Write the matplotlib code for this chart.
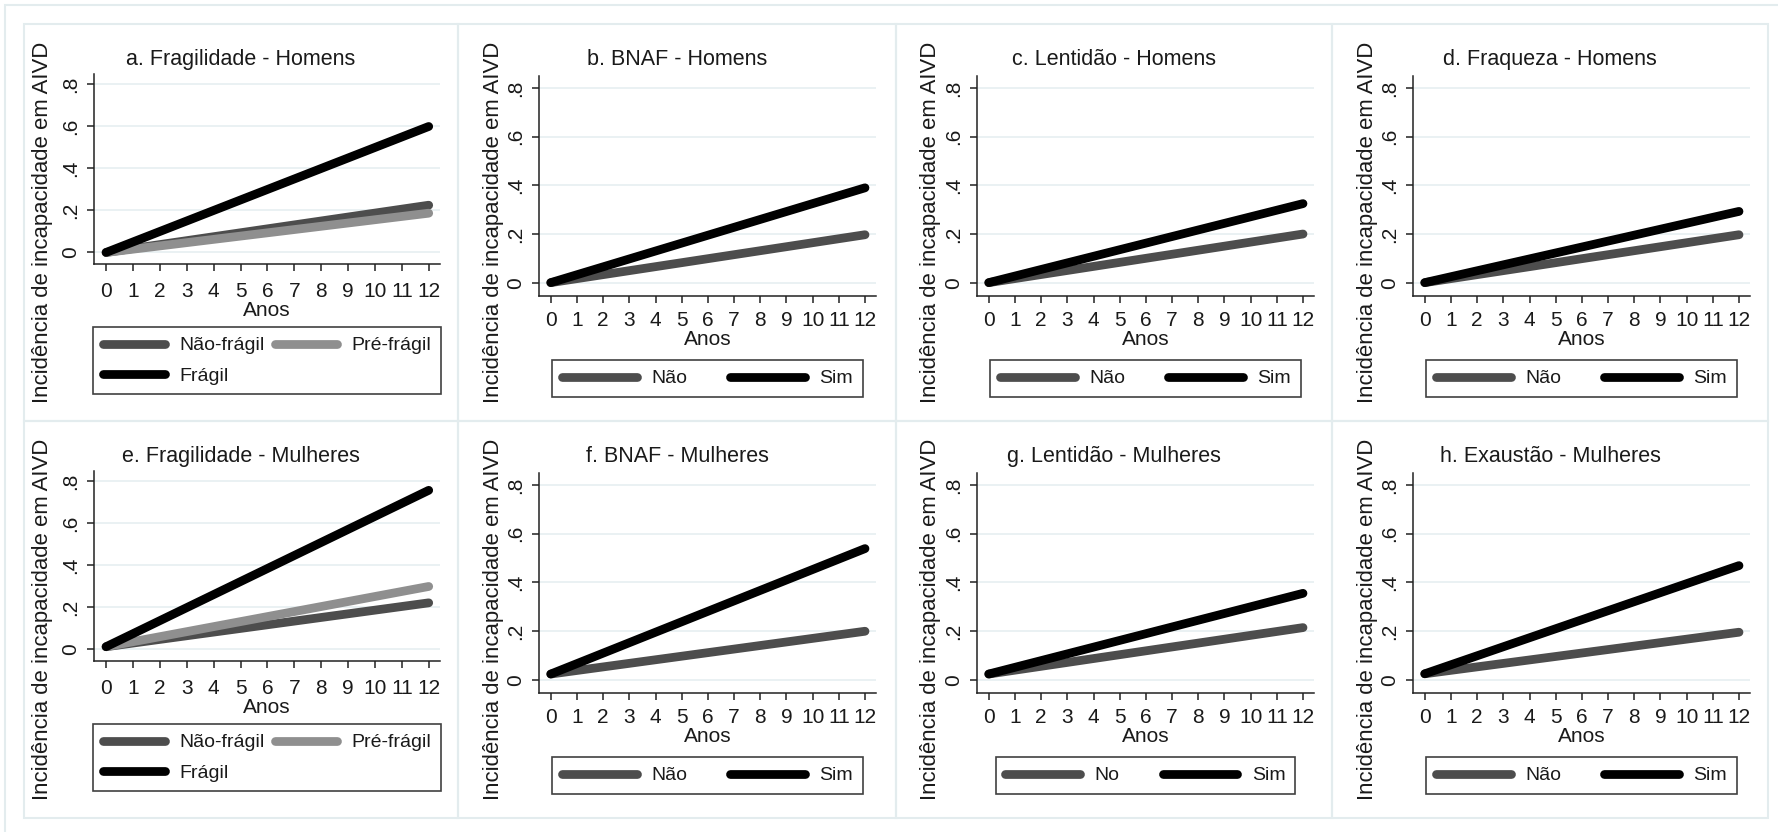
import matplotlib
matplotlib.use("Agg")
import matplotlib.pyplot as plt
from matplotlib.patches import Rectangle

plt.rcParams['font.family'] = ['Liberation Sans', 'DejaVu Sans']

# ---- dados ----
anos = [0, 12]

titulos = ["a. Fragilidade - Homens", "b. BNAF - Homens", "c. Lentidão - Homens",
           "d. Fraqueza - Homens", "e. Fragilidade - Mulheres", "f. BNAF - Mulheres",
           "g. Lentidão - Mulheres", "h. Exaustão - Mulheres"]

hom_frag_nao = [0.0, 0.225]
hom_frag_pre = [0.0, 0.187]
hom_frag_fragil = [0.0, 0.600]
hom_bnaf_nao = [0.0, 0.197]
hom_bnaf_sim = [0.0, 0.390]
hom_lent_nao = [0.0, 0.200]
hom_lent_sim = [0.0, 0.325]
hom_fraq_nao = [0.0, 0.197]
hom_fraq_sim = [0.0, 0.293]

mul_frag_nao = [0.013, 0.222]
mul_frag_pre = [0.013, 0.300]
mul_frag_fragil = [0.013, 0.758]
mul_bnaf_nao = [0.023, 0.199]
mul_bnaf_sim = [0.023, 0.539]
mul_lent_nao = [0.023, 0.214]
mul_lent_sim = [0.023, 0.355]
mul_exau_nao = [0.024, 0.195]
mul_exau_sim = [0.024, 0.469]

rotulos_frag = ["Não-frágil", "Pré-frágil", "Frágil"]
rotulos_sn = ["Não", "Sim"]
rotulos_g = ["No", "Sim"]

yticks = [0, 0.2, 0.4, 0.6, 0.8]
ytick_labels = ["0", ".2", ".4", ".6", ".8"]
xticks = list(range(13))

# ---- estilo ----
cor_nao = "#4d4d4d"
cor_pre = "#8f8f8f"
cor_sim = "#000000"
cor_grade = "#e6eff1"
cor_borda = "#e3ecee"

W, H = 1778, 832
fig = plt.figure(figsize=(W / 100, H / 100), dpi=100)
fig.patch.set_facecolor("white")

def fx(x):
    return x / W

def fy(y):
    return 1 - y / H

# moldura externa
fig.add_artist(Rectangle((fx(5), fy(H + 20)), fx(W + 20), (H + 15) / H, transform=fig.transFigure,
                         fill=False, ec=cor_borda, lw=1.5))

col_x = [24, 458, 896, 1332, 1768]
row_y = [24, 421, 818]

paineis = [
    (0, 0, [hom_frag_nao, hom_frag_pre, hom_frag_fragil], [cor_nao, cor_pre, cor_sim], rotulos_frag),
    (0, 1, [hom_bnaf_nao, hom_bnaf_sim], [cor_nao, cor_sim], rotulos_sn),
    (0, 2, [hom_lent_nao, hom_lent_sim], [cor_nao, cor_sim], rotulos_sn),
    (0, 3, [hom_fraq_nao, hom_fraq_sim], [cor_nao, cor_sim], rotulos_sn),
    (1, 0, [mul_frag_nao, mul_frag_pre, mul_frag_fragil], [cor_nao, cor_pre, cor_sim], rotulos_frag),
    (1, 1, [mul_bnaf_nao, mul_bnaf_sim], [cor_nao, cor_sim], rotulos_sn),
    (1, 2, [mul_lent_nao, mul_lent_sim], [cor_nao, cor_sim], rotulos_g),
    (1, 3, [mul_exau_nao, mul_exau_sim], [cor_nao, cor_sim], rotulos_sn),
]

for k, (r, c, series, cores, rotulos) in enumerate(paineis):
    ox, oy = col_x[c], row_y[r]
    pw, ph = col_x[c + 1] - ox, row_y[r + 1] - oy

    # borda do painel
    fig.add_artist(Rectangle((fx(ox), fy(oy + ph)), pw / W, ph / H, transform=fig.transFigure,
                             fill=False, ec=cor_borda, lw=1.5))

    tres = len(series) == 3
    if tres:
        left, right, top, bottom = ox + 70, ox + 416, oy + 50, oy + 240
    else:
        left, right, top, bottom = ox + 81, ox + 418, oy + 52, oy + 272

    ax = fig.add_axes([fx(left), fy(bottom), (right - left) / W, (bottom - top) / H])
    handles = []
    for s, cor, lab in zip(series, cores, rotulos):
        h, = ax.plot(anos, s, color=cor, lw=6.3, solid_capstyle="round", label=lab)
        handles.append(h)

    ax.set_xlim(-0.45, 12.42)
    ax.set_ylim(-0.055, 0.85)
    ax.set_xticks(xticks)
    ax.set_yticks(yticks)
    ax.set_yticklabels(ytick_labels, rotation=90, va="center")
    ax.tick_params(axis="both", direction="out", length=5, width=1.1, color="#222222",
                   labelsize=15, labelcolor="#1a1a1a")
    ax.tick_params(axis="y", pad=5)
    ax.tick_params(axis="x", pad=8 if tres else 6)
    for lado in ["top", "right"]:
        ax.spines[lado].set_visible(False)
    for lado in ["left", "bottom"]:
        ax.spines[lado].set_linewidth(1.1)
        ax.spines[lado].set_color("#222222")
    ax.grid(axis="y", color=cor_grade, lw=1.2)
    ax.set_axisbelow(True)
    ax.set_xlabel("Anos", fontsize=15, color="#1a1a1a", labelpad=0)

    # titulo centrado no painel
    fig.text(fx(ox + pw / 2), fy(oy + 41), titulos[k], ha="center", va="baseline",
             fontsize=15.5, color="#1a1a1a")
    # rotulo do eixo y
    fig.text(fx(ox + (19 if tres else 35)), fy(oy + ph / 2), "Incidência de incapacidade em AIVD",
             rotation=90, ha="center", va="center", fontsize=15.9, color="#1a1a1a")

    # legenda
    if tres:
        ordem = [handles[0], handles[2], handles[1]]
        hl, cs, topo = 3.2, 0.5, bottom + 63
    else:
        ordem = handles
        hl, cs, topo = 3.85, 2.2, bottom + 64
    leg = ax.legend(handles=ordem, labels=[h.get_label() for h in ordem], ncol=2,
                    loc="upper center", bbox_to_anchor=(fx((left + right) / 2), fy(topo)),
                    bbox_transform=fig.transFigure, fontsize=14, frameon=True, fancybox=False,
                    edgecolor="#111111", handlelength=hl, handletextpad=0.75, columnspacing=cs,
                    borderpad=0.5, labelspacing=0.65, borderaxespad=0)
    leg.get_frame().set_linewidth(1.2)
    for t in leg.get_texts():
        t.set_color("#1a1a1a")
    for lh in leg.legend_handles:
        lh.set_linewidth(6.3)
        lh.set_solid_capstyle("round")

fig.savefig("out.png", dpi=100, facecolor="white")
